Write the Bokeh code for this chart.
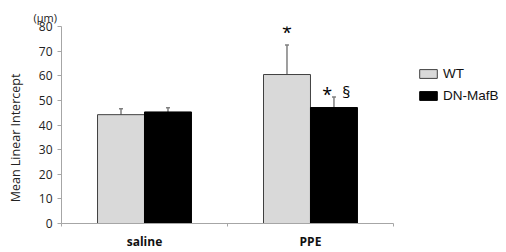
from bokeh.plotting import figure
from bokeh.models import Range1d, FixedTicker, Legend, LegendItem, Title
from bokeh.core.properties import value
from bokeh.embed import file_html
from bokeh.resources import INLINE

categories = ["saline", "PPE"]
wt_mean = [44.2, 60.5]
wt_err = [2.4, 12.0]
dn_mean = [45.3, 47.1]
dn_err = [1.7, 4.3]
y_ticks = [0, 10, 20, 30, 40, 50, 60, 70, 80]

FONT = "Open Sans"
BAR_W = 0.283
GRAY = "#a6a6a6"
N = len(categories)
X_END = N + 0.681  # extra room on the right for the legend

p = figure(width=506, height=252, output_backend="svg", toolbar_location=None,
           x_range=Range1d(0, X_END), y_range=Range1d(0, 80),
           min_border_left=61, min_border_right=0, min_border_top=26, min_border_bottom=28)
p.outline_line_color = None
p.grid.visible = False
p.background_fill_color = "white"
p.border_fill_color = "white"

centers = [i + 0.5 for i in range(N)]
wt_x = [c - BAR_W / 2 for c in centers]
dn_x = [c + BAR_W / 2 for c in centers]

# error bars (upper only)
cap = 0.012
for xs, ms, es in ((wt_x, wt_mean, wt_err), (dn_x, dn_mean, dn_err)):
    tops = [m + e for m, e in zip(ms, es)]
    p.segment(x0=xs, y0=ms, x1=xs, y1=tops, line_color="#7f7f7f", line_width=1.5)
    p.segment(x0=[x - cap for x in xs], y0=tops, x1=[x + cap for x in xs], y1=tops,
              line_color="#7f7f7f", line_width=1.5)

r_wt = p.vbar(x=wt_x, top=wt_mean, width=BAR_W, bottom=0,
              fill_color="#d9d9d9", line_color="#404040", line_width=1)
r_dn = p.vbar(x=dn_x, top=dn_mean, width=BAR_W, bottom=0,
              fill_color="#000000", line_color="#000000", line_width=1)

# significance markers
p.text(x=[wt_x[1]], y=[wt_mean[1] + wt_err[1] + 5.1], text=["*"],
       text_font=value(FONT), text_font_size="18px", text_align="center",
       text_baseline="middle", text_color="black")
p.text(x=[dn_x[1] - 0.041], y=[dn_mean[1] + dn_err[1] + 1.2], text=["*"],
       text_font=value(FONT), text_font_size="18px", text_align="center",
       text_baseline="middle", text_color="black")
p.text(x=[dn_x[1] + 0.075], y=[dn_mean[1] + dn_err[1] + 2.2], text=["§"],
       text_font=value(FONT), text_font_size="16px", text_align="center",
       text_baseline="middle", text_color="black")

# y axis
ya = p.yaxis[0]
ya.ticker = FixedTicker(ticks=y_ticks)
ya.axis_line_color = GRAY
ya.major_tick_line_color = GRAY
ya.major_tick_out = 4
ya.major_tick_in = 0
ya.minor_tick_line_color = None
ya.major_label_text_font = FONT
ya.major_label_text_font_size = "12px"
ya.major_label_text_color = "#222222"
ya.major_label_standoff = 5
ya.axis_label = "Mean Linear Intercept" + "\u00a0" * 8
ya.axis_label_text_font = FONT
ya.axis_label_text_font_style = "normal"
ya.axis_label_text_font_size = "12.5px"
ya.axis_label_text_color = "#222222"
ya.axis_label_standoff = 12

# x axis
xa = p.xaxis[0]
xa.bounds = (0, N)
xa.ticker = FixedTicker(ticks=centers, minor_ticks=list(range(N + 1)))
xa.major_label_overrides = {c: lab for c, lab in zip(centers, categories)}
xa.axis_line_color = GRAY
xa.major_tick_line_color = None
xa.minor_tick_line_color = GRAY
xa.minor_tick_out = 3
xa.minor_tick_in = 0
xa.major_label_text_font = FONT
xa.major_label_text_font_style = "bold"
xa.major_label_text_font_size = "12px"
xa.major_label_text_color = "#111111"
xa.major_label_standoff = 3

# unit above the y axis
p.add_layout(Title(text="(µm)", align="left", offset=-28, text_font=FONT,
                   text_font_size="11px", text_font_style="normal",
                   text_color="#222222", standoff=0, vertical_align="top"), "above")

legend = Legend(items=[LegendItem(label="WT", renderers=[r_wt]),
                       LegendItem(label="DN-MafB", renderers=[r_dn])],
                location=(356, 120), orientation="vertical",
                glyph_width=22, glyph_height=11, label_standoff=4, spacing=7,
                padding=0, margin=0, border_line_color=None, background_fill_alpha=0,
                label_text_font="Liberation Sans", label_text_font_size="13.5px",
                label_text_color="#111111", label_height=14)
p.add_layout(legend, "center")

open("out.html", "w").write(file_html(p, INLINE))
